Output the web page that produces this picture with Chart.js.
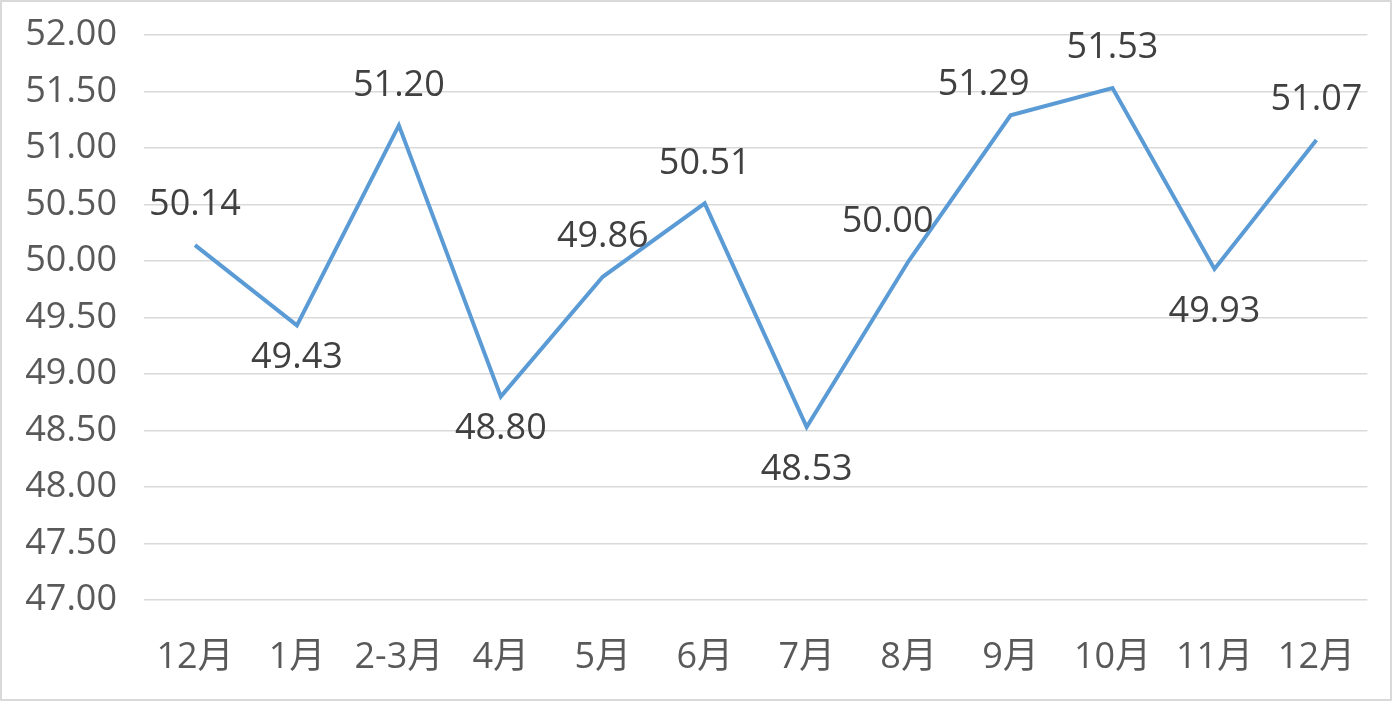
<!DOCTYPE html>
<html>
<head>
<meta charset="utf-8">
<script src="https://cdn.jsdelivr.net/npm/chart.js@4"></script>
<style>
    html, body { margin: 0; padding: 0; background: #fff; }
    #wrap { width: 1392px; height: 701px; }
</style>
</head>
<body>
<div id="wrap"><canvas id="pmiChart"></canvas></div>
<script>
// Chart data
const months = ['12月', '1月', '2-3月', '4月', '5月', '6月', '7月', '8月', '9月', '10月', '11月', '12月'];
const values = [50.14, 49.43, 51.20, 48.80, 49.86, 50.51, 48.53, 50.00, 51.29, 51.53, 49.93, 51.07];
const labelSide = ['up', 'down', 'up', 'down', 'up', 'up', 'down', 'upLeft', 'upLeft', 'up', 'down', 'up'];

const FONT = "'Open Sans', 'Noto Sans CJK SC', sans-serif";

// label offsets by side
const offsets = {
    up: [0, -40],
    down: [0, 32],
    upLeft: [-21, -39]
};

// White background and light frame
const framePlugin = {
    id: 'frame',
    beforeDraw(chart) {
        const ctx = chart.ctx;
        ctx.save();
        ctx.fillStyle = '#ffffff';
        ctx.fillRect(0, 0, chart.width, chart.height);
        ctx.strokeStyle = '#d9d9d9';
        ctx.lineWidth = 2;
        ctx.strokeRect(1, 1, chart.width - 2, chart.height - 2);
        ctx.restore();
    }
};

// Value labels next to each point
const valueLabels = {
    id: 'valueLabels',
    afterDatasetsDraw(chart) {
        const ctx = chart.ctx;
        const meta = chart.getDatasetMeta(0);
        ctx.save();
        ctx.font = `36px ${FONT}`;
        ctx.fillStyle = '#404040';
        ctx.textAlign = 'center';
        ctx.textBaseline = 'middle';
        meta.data.forEach((pt, i) => {
            let [dx, dy] = offsets[labelSide[i]];
            if (i === 8) { dx = -27; dy = -30; }
            if (i === 6 || i === 10) dy = 43;
            ctx.fillText(values[i].toFixed(2), pt.x + dx, pt.y + dy);
        });
        ctx.restore();
    }
};

new Chart(document.getElementById('pmiChart'), {
    type: 'line',
    data: {
        labels: months,
        datasets: [{
            data: values,
            borderColor: '#5b9bd5',
            borderWidth: 4,
            pointRadius: 0,
            tension: 0,
            fill: false
        }]
    },
    options: {
        responsive: true,
        maintainAspectRatio: false,
        animation: false,
        layout: {
            padding: { top: 35, right: 24, bottom: 0, left: 0 }
        },
        plugins: {
            legend: { display: false },
            tooltip: { enabled: false }
        },
        scales: {
            x: {
                offset: true,
                grid: { display: false, drawTicks: false, offset: true },
                border: { display: false },
                ticks: {
                    color: '#595959',
                    font: { family: FONT, size: 36 },
                    padding: 36,
                    maxRotation: 0,
                    autoSkip: false
                },
                afterFit(scale) { scale.height = 101; }
            },
            y: {
                min: 47,
                max: 52,
                grid: { color: '#d9d9d9', lineWidth: 1.5, drawTicks: false },
                border: { display: false },
                ticks: {
                    stepSize: 0.5,
                    color: '#595959',
                    font: { family: FONT, size: 36 },
                    padding: 27,
                    callback: v => v.toFixed(2)
                },
                afterFit(scale) {
                    scale.width = 144;
                    scale.paddingTop = 0;
                    scale.paddingBottom = 0;
                }
            }
        }
    },
    plugins: [framePlugin, valueLabels]
});
</script>
</body>
</html>
